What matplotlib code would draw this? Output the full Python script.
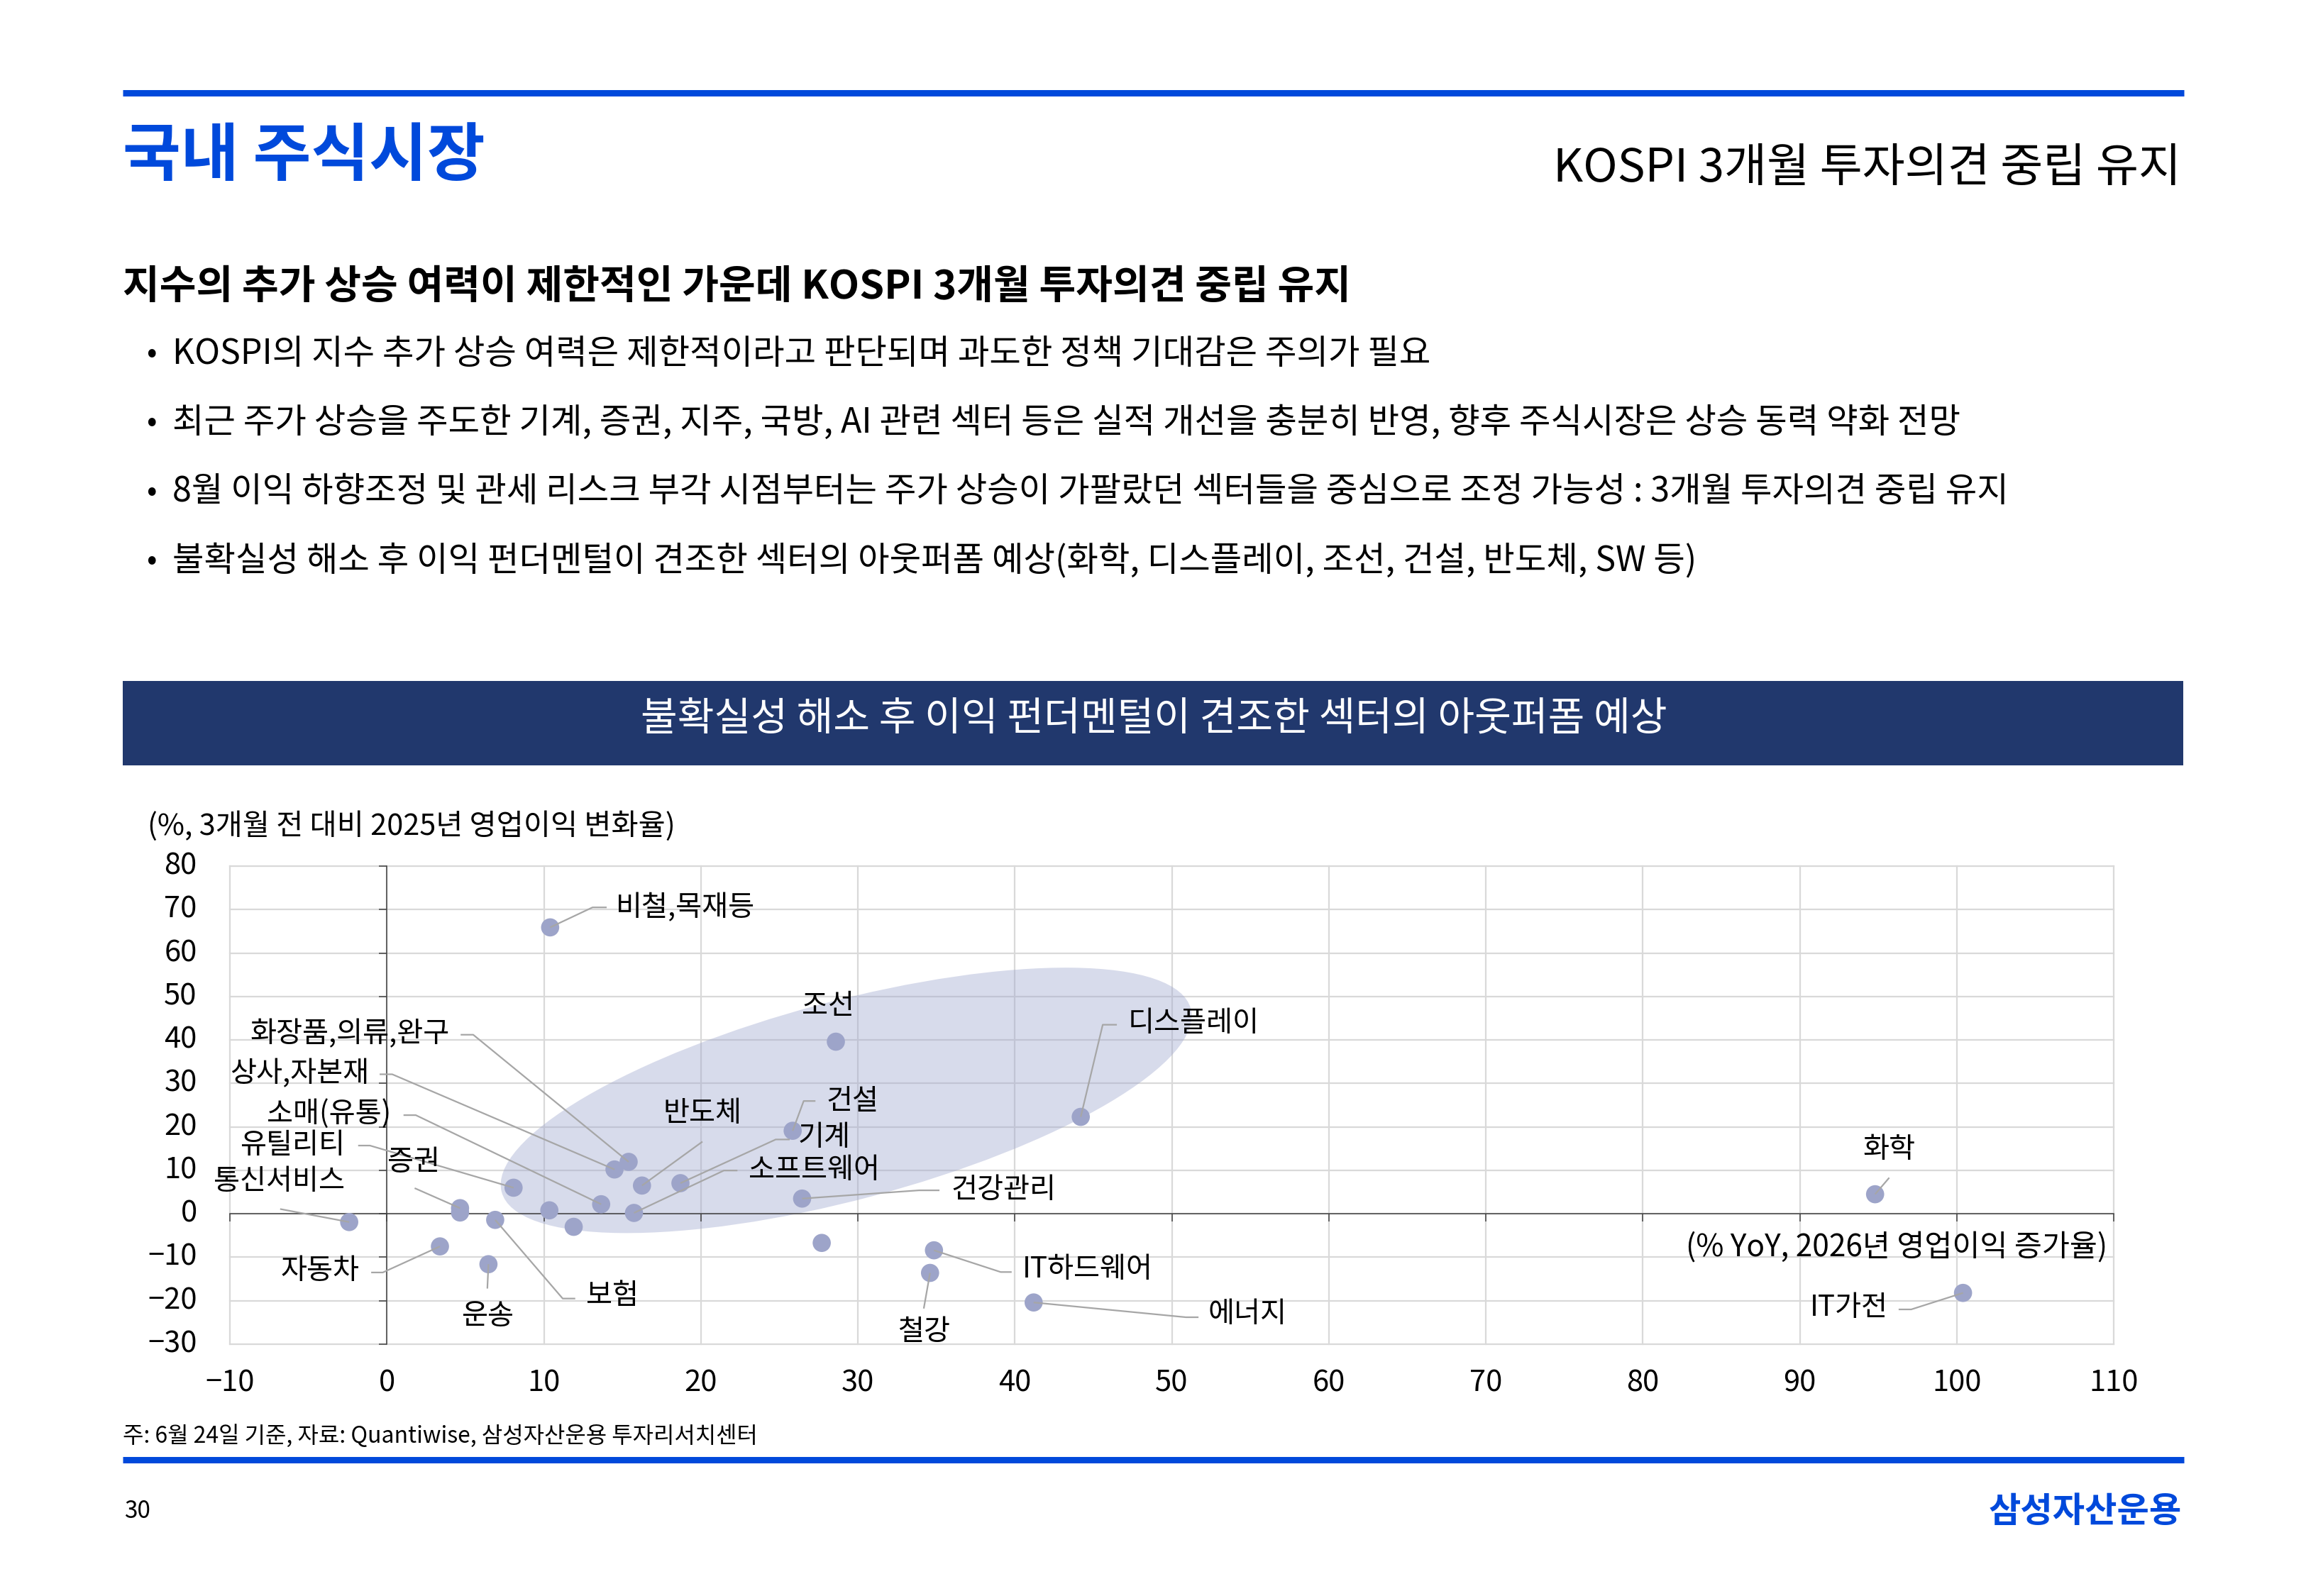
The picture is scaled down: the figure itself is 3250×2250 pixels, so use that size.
import matplotlib
matplotlib.use("Agg")
import matplotlib.pyplot as plt
from matplotlib.patches import Ellipse, Rectangle
from matplotlib.lines import Line2D
from matplotlib.transforms import ScaledTranslation

plt.rcParams['font.family'] = ['Noto Sans CJK KR', 'DejaVu Sans']

W, H = 3250, 2250
BLUE = '#0049DB'
NAVY = '#21386D'
DOT = '#9DA4C9'
LEADER = '#A6A6A6'
GRID = '#D9D9D9'

# --- data: sector, 2026 YoY OP growth (x), change in 2025 OP vs 3m ago (y) ---
sectors = ['비철,목재등', '조선', '디스플레이', '건설', '화장품,의류,완구', '상사,자본재',
           '반도체', '기계', '유틸리티', '건강관리', '소매(유통)', '소프트웨어',
           '', '', '보험', '증권', '', '통신서비스', '자동차', '운송',
           '', 'IT하드웨어', '철강', '에너지', '화학', 'IT가전']
op_growth_2026 = [10.4, 28.6, 44.2, 25.85, 15.4, 14.5,
                  16.25, 18.7, 8.07, 26.45, 13.65, 15.74,
                  10.35, 11.9, 6.9, 4.66, 4.66, -2.4, 3.38, 6.47,
                  27.7, 34.85, 34.6, 41.2, 94.8, 100.4]
op_change_3m = [65.9, 39.6, 22.3, 19.1, 11.95, 10.2,
                6.5, 7.05, 6.0, 3.5, 2.2, 0.2,
                0.8, -3.0, -1.4, 1.3, 0.3, -1.9, -7.5, -11.6,
                -6.7, -8.4, -13.6, -20.4, 4.5, -18.2]

xticks = list(range(-10, 111, 10))
yticks = list(range(-30, 81, 10))

# label placement: text position, alignment, and leader path (start/elbow) in data units
label_pos = {
    '비철,목재등': (14.6, 70.5, 'left', [(14.0, 70.5), (13.1, 70.5)]),
    '조선': (28.1, 47.8, 'center', []),
    '디스플레이': (47.2, 43.8, 'left', [(46.5, 43.5), (45.6, 43.5)]),
    '건설': (28.0, 25.9, 'left', [(27.3, 25.95), (26.55, 25.95)]),
    '화장품,의류,완구': (4.0, 41.4, 'right', [(4.7, 41.2), (5.5, 41.2)]),
    '상사,자본재': (-1.15, 32.3, 'right', [(-0.46, 32.1), (0.34, 32.1)]),
    '반도체': (20.1, 23.1, 'center', [(20.1, 16.6)]),
    '기계': (26.2, 17.6, 'left', [(25.66, 17.1), (24.77, 17.1)]),
    '유틸리티': (-2.66, 15.7, 'right', [(-1.83, 15.7), (-1.08, 15.7)]),
    '건강관리': (35.96, 5.5, 'left', [(35.2, 5.4), (33.9, 5.4)]),
    '소매(유통)': (0.26, 23.0, 'right', [(1.06, 22.7), (1.84, 22.7)]),
    '소프트웨어': (23.06, 10.1, 'left', [(22.33, 9.96), (21.47, 9.96)]),
    '보험': (12.7, -18.9, 'left', [(12.0, -19.5), (11.2, -19.5)]),
    '증권': (1.7, 11.8, 'center', [(1.77, 5.9)]),
    '통신서비스': (-2.66, 7.5, 'right', [(-6.8, 1.1)]),
    '자동차': (-1.76, -13.1, 'right', [(-1.0, -13.5), (-0.26, -13.5)]),
    '운송': (6.4, -23.5, 'center', [(6.4, -17.2)]),
    'IT하드웨어': (40.5, -12.8, 'left', [(39.8, -13.4), (39.1, -13.4)]),
    '철강': (34.2, -27.2, 'center', [(34.2, -21.8)]),
    '에너지': (52.3, -23.0, 'left', [(51.7, -23.8), (50.9, -23.8)]),
    '화학': (95.7, 14.8, 'center', [(95.7, 8.3)]),
    'IT가전': (95.6, -21.6, 'right', [(96.3, -22.0), (97.1, -22.0)]),
}

# highlight ellipse (centre in data units, size in inches on the page)
ELL_CX, ELL_CY = 29.26, 26.1
ELL_W, ELL_H, ELL_ANGLE = 10.05, 2.80, 14.9

bullets = [
    'KOSPI의 지수 추가 상승 여력은 제한적이라고 판단되며 과도한 정책 기대감은 주의가 필요',
    '최근 주가 상승을 주도한 기계, 증권, 지주, 국방, AI 관련 섹터 등은 실적 개선을 충분히 반영, 향후 주식시장은 상승 동력 약화 전망',
    '8월 이익 하향조정 및 관세 리스크 부각 시점부터는 주가 상승이 가팔랐던 섹터들을 중심으로 조정 가능성 : 3개월 투자의견 중립 유지',
    '불확실성 해소 후 이익 펀더멘털이 견조한 섹터의 아웃퍼폼 예상(화학, 디스플레이, 조선, 건설, 반도체, SW 등)',
]

fig = plt.figure(figsize=(W / 100, H / 100), dpi=100)


def ftext(px, py, s, **kw):
    fig.text(px / W, 1 - py / H, s, **kw)


def hline(x0, x1, py, lw, color):
    fig.add_artist(Line2D([x0 / W, x1 / W], [1 - py / H, 1 - py / H],
                          transform=fig.transFigure, color=color, lw=lw,
                          solid_capstyle='butt'))


# --- page header ---
hline(173, 3078, 131, 6.5, BLUE)
ftext(173, 221, '국내 주식시장', fontsize=64, fontweight='bold', color=BLUE, va='center')
ftext(3074, 238, 'KOSPI 3개월 투자의견 중립 유지', fontsize=47, color='black',
      va='center', ha='right')
ftext(173, 404, '지수의 추가 상승 여력이 제한적인 가운데 KOSPI 3개월 투자의견 중립 유지',
      fontsize=40.5, fontweight='bold', color='black', va='center')
for i, b in enumerate(bullets):
    py = 499 + i * 97.3
    ftext(206, py, '•', fontsize=31, va='center')
    ftext(243, py, b, fontsize=34.8, va='center')

# banner
fig.add_artist(Rectangle((173 / W, 1 - 1079 / H), (3077 - 173) / W, (1079 - 960) / H,
                         transform=fig.transFigure, color=NAVY, lw=0))
ftext(1626, 1015, '불확실성 해소 후 이익 펀더멘털이 견조한 섹터의 아웃퍼폼 예상',
      fontsize=40.5, color='white', va='center', ha='center')

# --- chart ---
ax = fig.add_axes([324 / W, 1 - 1895 / H, (2979 - 324) / W, (1895 - 1221) / H])
ax.set_xlim(-10, 110)
ax.set_ylim(-30, 80)

for xv in xticks:
    ax.axvline(xv, color=GRID, lw=1.6, zorder=0.5, clip_on=False)
for yv in yticks:
    ax.axhline(yv, color=GRID, lw=1.6, zorder=0.5, clip_on=False)

ell = Ellipse((0, 0), ELL_W, ELL_H, angle=ELL_ANGLE, facecolor='#9DA5CD', alpha=0.4,
              edgecolor='none', zorder=1,
              transform=fig.dpi_scale_trans + ScaledTranslation(ELL_CX, ELL_CY, ax.transData))
ax.add_patch(ell)

for side in ['top', 'right']:
    ax.spines[side].set_visible(False)
ax.spines['left'].set_position(('data', 0))
ax.spines['bottom'].set_position(('data', 0))
for side in ['left', 'bottom']:
    ax.spines[side].set_color('#404040')
    ax.spines[side].set_linewidth(1.1)
    ax.spines[side].set_zorder(2)
ax.set_xticks(xticks)
ax.set_yticks(yticks)
ax.tick_params(direction='out', length=8, width=1.1, color='#404040',
               labelleft=False, labelbottom=False)

# tick labels sit at the low edge of the plot (Excel style)
for xv in xticks:
    ax.text(xv, -35.6, f'{xv}'.replace('-', '−'), ha='center', va='top',
            fontsize=30, clip_on=False)
for yv in yticks:
    ax.text(-10 - 2.1, yv, f'{yv}'.replace('-', '−'), ha='right', va='center',
            fontsize=30, clip_on=False)

ax.scatter(op_growth_2026, op_change_3m, s=340, color=DOT, edgecolor='none', zorder=3)

for name, xv, yv in zip(sectors, op_growth_2026, op_change_3m):
    if not name:
        continue
    tx, ty, ha, path = label_pos[name]
    if path:
        px = [p[0] for p in path] + [xv]
        py = [p[1] for p in path] + [yv]
        ax.plot(px, py, color=LEADER, lw=1.6, zorder=4, solid_capstyle='butt')
    ax.text(tx, ty, name, ha=ha, va='center', fontsize=29, zorder=5)

ax.text(109.6, -7.7, '(% YoY, 2026년 영업이익 증가율)', ha='right', va='center', fontsize=30.5)
ftext(208, 1165, '(%, 3개월 전 대비 2025년 영업이익 변화율)', fontsize=29.8, va='center')

# --- footer ---
ftext(173, 2024, '주: 6월 24일 기준, 자료: Quantiwise, 삼성자산운용 투자리서치센터',
      fontsize=23, va='center')
hline(173, 3078, 2058, 6.5, BLUE)
ftext(175, 2130, '30', fontsize=24, va='center')
ftext(3075, 2132, '삼성자산운용', fontsize=35.5, fontweight='bold', color=BLUE,
      va='center', ha='right')

fig.savefig('out.png', dpi=100, facecolor='white')
